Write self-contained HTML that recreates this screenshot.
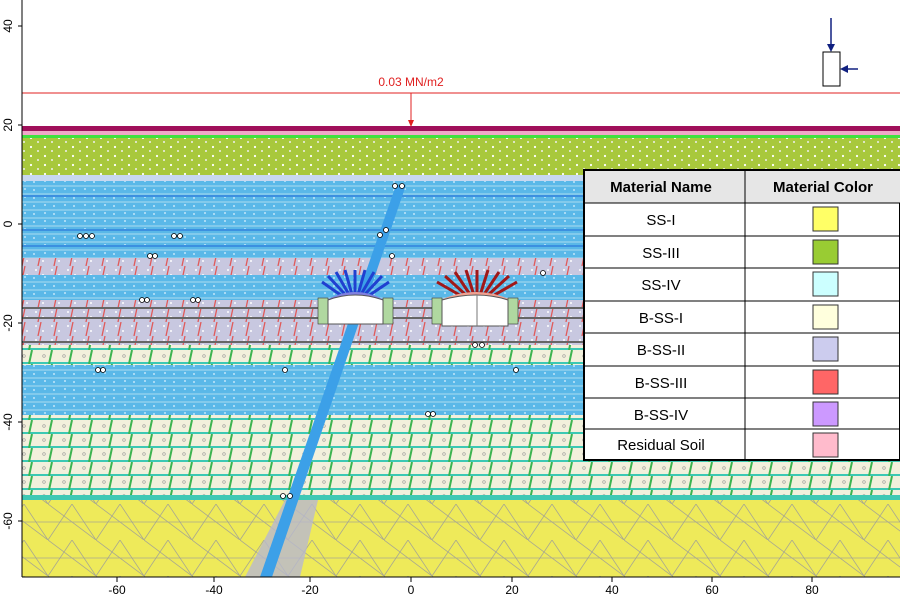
<!DOCTYPE html>
<html><head><meta charset="utf-8"><style>
html,body{margin:0;padding:0;background:#fff;width:900px;height:598px;overflow:hidden;font-family:"Liberation Sans",sans-serif}
</style></head><body>
<svg width="900" height="598" viewBox="0 0 900 598" xmlns="http://www.w3.org/2000/svg" font-family="Liberation Sans, sans-serif">
<defs>
<pattern id="dots" width="14" height="9" patternUnits="userSpaceOnUse"><circle cx="3" cy="3" r="1.1" fill="#fff"/><circle cx="10" cy="7" r="1" fill="#eee"/></pattern>
<pattern id="bluestr" width="20" height="8" patternUnits="userSpaceOnUse"><rect width="20" height="8" fill="#5ab8e8"/><line x1="0" y1="2" x2="20" y2="2" stroke="#a9dcf0" stroke-width="1"/><circle cx="5" cy="5" r="0.9" fill="#e0f4ff"/><circle cx="14" cy="6" r="0.9" fill="#e0f4ff"/></pattern>
<pattern id="redsl" width="16" height="14" patternUnits="userSpaceOnUse"><rect width="16" height="14" fill="#c8c8e0"/><circle cx="4" cy="4" r="1" fill="#fff"/><circle cx="11" cy="9" r="1" fill="#fff"/><line x1="6" y1="14" x2="9" y2="0" stroke="#e05a5a" stroke-width="1.3"/></pattern>
<pattern id="grngrid" width="20" height="14" patternUnits="userSpaceOnUse"><rect width="20" height="14" fill="#f2f0dc"/><line x1="0" y1="13" x2="20" y2="13" stroke="#3cc8b4" stroke-width="2"/><line x1="9" y1="14" x2="12" y2="0" stroke="#3cb450" stroke-width="2"/><circle cx="4" cy="6" r="1.3" fill="none" stroke="#999" stroke-width="0.6"/></pattern>
<pattern id="tri" width="48" height="36" patternUnits="userSpaceOnUse"><rect width="48" height="36" fill="#eeea5a"/><path d="M0 36 L24 0 L48 36 M0 18 H48 M0 0 L48 36" stroke="#a8a890" stroke-width="0.8" fill="none"/></pattern>
</defs>
<rect x="22" y="126" width="878" height="5" fill="#a0105a"/>
<rect x="22" y="131" width="878" height="4" fill="#f0a8c8"/>
<rect x="22" y="135" width="878" height="3" fill="#40e040"/>
<rect x="22" y="138" width="878" height="37" fill="#a8c83c"/>
<rect x="22" y="138" width="878" height="37" fill="url(#dots)"/>
<rect x="22" y="175" width="878" height="6" fill="#c8d8f0"/>
<rect x="22" y="181" width="878" height="77" fill="url(#bluestr)"/>
<g stroke="#3c90e0" stroke-width="2"><line x1="22" y1="196" x2="900" y2="196"/><line x1="22" y1="230" x2="900" y2="230"/><line x1="22" y1="246" x2="900" y2="246"/><line x1="22" y1="380" x2="900" y2="380"/><line x1="22" y1="412" x2="900" y2="412"/></g>
<rect x="22" y="258" width="878" height="17" fill="url(#redsl)"/>
<rect x="22" y="275" width="878" height="25" fill="url(#bluestr)"/>
<rect x="22" y="300" width="878" height="45" fill="url(#redsl)"/>
<line x1="22" y1="308" x2="900" y2="308" stroke="#666" stroke-width="2"/>
<line x1="22" y1="318" x2="900" y2="318" stroke="#666" stroke-width="2"/>
<line x1="22" y1="342" x2="900" y2="342" stroke="#666" stroke-width="2"/>
<rect x="22" y="345" width="878" height="20" fill="url(#grngrid)"/>
<rect x="22" y="365" width="878" height="50" fill="url(#bluestr)"/>
<rect x="22" y="415" width="878" height="80" fill="url(#grngrid)"/>
<rect x="22" y="495" width="878" height="5" fill="#40c8b4"/>
<rect x="22" y="500" width="878" height="77" fill="url(#tri)"/>
<polygon points="245,577 300,577 318,500 285,500" fill="#b8b8d0" opacity="0.8"/>
<polygon points="396,185 406,185 272,577 260,577" fill="#3ca0e8"/>
<g stroke="#2040d0" stroke-width="3">
<line x1="355" y1="305" x2="322" y2="282"/><line x1="355" y1="305" x2="328" y2="276"/><line x1="355" y1="305" x2="336" y2="272"/><line x1="355" y1="305" x2="345" y2="270"/><line x1="355" y1="305" x2="355" y2="270"/><line x1="355" y1="305" x2="365" y2="270"/><line x1="355" y1="305" x2="374" y2="272"/><line x1="355" y1="305" x2="382" y2="276"/><line x1="355" y1="305" x2="389" y2="282"/>
</g>
<g stroke="#a01818" stroke-width="3">
<line x1="477" y1="305" x2="437" y2="282"/><line x1="477" y1="305" x2="445" y2="276"/><line x1="477" y1="305" x2="455" y2="272"/><line x1="477" y1="305" x2="466" y2="270"/><line x1="477" y1="305" x2="477" y2="270"/><line x1="477" y1="305" x2="488" y2="270"/><line x1="477" y1="305" x2="499" y2="272"/><line x1="477" y1="305" x2="509" y2="276"/><line x1="477" y1="305" x2="517" y2="282"/>
</g>
<path d="M323 302 Q355 282 388 302 Z" fill="#8080e0"/>
<path d="M436 302 Q477 282 515 302 Z" fill="#f0a090"/>
<rect x="318" y="298" width="10" height="26" fill="#b0d8a0" stroke="#333" stroke-width="0.6"/>
<rect x="383" y="298" width="10" height="26" fill="#b0d8a0" stroke="#333" stroke-width="0.6"/>
<rect x="432" y="298" width="10" height="26" fill="#b0d8a0" stroke="#333" stroke-width="0.6"/>
<rect x="508" y="298" width="10" height="26" fill="#b0d8a0" stroke="#333" stroke-width="0.6"/>
<path d="M328 300 Q355 290 383 300 V324 H328 Z" fill="#fff" stroke="#555"/>
<path d="M442 300 Q477 290 508 300 V326 H442 Z" fill="#fff" stroke="#555"/>
<line x1="477" y1="295" x2="477" y2="326" stroke="#777"/>
<g fill="#fff" stroke="#000" stroke-width="0.8">
<circle cx="80" cy="236" r="2.5"/><circle cx="86" cy="236" r="2.5"/><circle cx="92" cy="236" r="2.5"/><circle cx="174" cy="236" r="2.5"/><circle cx="180" cy="236" r="2.5"/><circle cx="150" cy="256" r="2.5"/><circle cx="155" cy="256" r="2.5"/><circle cx="142" cy="300" r="2.5"/><circle cx="147" cy="300" r="2.5"/><circle cx="193" cy="300" r="2.5"/><circle cx="198" cy="300" r="2.5"/><circle cx="98" cy="370" r="2.5"/><circle cx="103" cy="370" r="2.5"/><circle cx="395" cy="186" r="2.5"/><circle cx="402" cy="186" r="2.5"/><circle cx="380" cy="235" r="2.5"/><circle cx="386" cy="230" r="2.5"/><circle cx="392" cy="256" r="2.5"/><circle cx="285" cy="370" r="2.5"/><circle cx="516" cy="370" r="2.5"/><circle cx="428" cy="414" r="2.5"/><circle cx="433" cy="414" r="2.5"/><circle cx="283" cy="496" r="2.5"/><circle cx="290" cy="496" r="2.5"/><circle cx="475" cy="345" r="2.5"/><circle cx="482" cy="345" r="2.5"/><circle cx="543" cy="273" r="2.5"/>
</g>
<line x1="22" y1="93" x2="900" y2="93" stroke="#e02020" stroke-width="1"/>
<line x1="411" y1="93" x2="411" y2="124" stroke="#e02020"/>
<path d="M408 120 L411 127 L414 120 Z" fill="#e02020"/>
<text x="411" y="86" font-size="12" fill="#e02020" text-anchor="middle">0.03 MN/m2</text>
<line x1="831" y1="18" x2="831" y2="48" stroke="#102080" stroke-width="1.5"/>
<path d="M827 44 L831 52 L835 44 Z" fill="#102080"/>
<rect x="823" y="52" width="17" height="34" fill="#fff" stroke="#000"/>
<line x1="844" y1="69" x2="858" y2="69" stroke="#102080" stroke-width="1.5"/>
<path d="M848 65 L840 69 L848 73 Z" fill="#102080"/>
<line x1="22" y1="0" x2="22" y2="577" stroke="#000"/>
<line x1="22" y1="577" x2="900" y2="577" stroke="#000"/>
<g stroke="#000" stroke-width="1">
<path d="M18 26H22 M18 125H22 M18 224H22 M18 323H22 M18 422H22 M18 521H22"/>
<path d="M117 577V582 M214 577V582 M310 577V582 M411 577V582 M512 577V582 M612 577V582 M712 577V582 M812 577V582"/>
</g>
<g font-size="12" fill="#000">
<text transform="translate(12,26) rotate(-90)" text-anchor="middle">40</text>
<text transform="translate(12,125) rotate(-90)" text-anchor="middle">20</text>
<text transform="translate(12,224) rotate(-90)" text-anchor="middle">0</text>
<text transform="translate(12,323) rotate(-90)" text-anchor="middle">-20</text>
<text transform="translate(12,422) rotate(-90)" text-anchor="middle">-40</text>
<text transform="translate(12,521) rotate(-90)" text-anchor="middle">-60</text>
<text x="117" y="594" text-anchor="middle">-60</text><text x="214" y="594" text-anchor="middle">-40</text><text x="310" y="594" text-anchor="middle">-20</text><text x="411" y="594" text-anchor="middle">0</text><text x="512" y="594" text-anchor="middle">20</text><text x="612" y="594" text-anchor="middle">40</text><text x="712" y="594" text-anchor="middle">60</text><text x="812" y="594" text-anchor="middle">80</text>
</g>
<g>
<rect x="584" y="170" width="316" height="290" fill="#fff" stroke="#000" stroke-width="2"/>
<rect x="585" y="171" width="315" height="32" fill="#e6e6e6"/>
<line x1="745" y1="170" x2="745" y2="460" stroke="#000"/>
<g stroke="#000"><line x1="584" y1="203" x2="900" y2="203"/><line x1="584" y1="236" x2="900" y2="236"/><line x1="584" y1="268" x2="900" y2="268"/><line x1="584" y1="301" x2="900" y2="301"/><line x1="584" y1="333" x2="900" y2="333"/><line x1="584" y1="366" x2="900" y2="366"/><line x1="584" y1="398" x2="900" y2="398"/><line x1="584" y1="429" x2="900" y2="429"/></g>
<g font-size="15" text-anchor="middle" fill="#000">
<text x="661" y="192" font-weight="bold">Material Name</text><text x="823" y="192" font-weight="bold">Material Color</text>
<text x="661" y="225">SS-I</text><text x="661" y="258">SS-III</text><text x="661" y="290">SS-IV</text><text x="661" y="323">B-SS-I</text><text x="661" y="355">B-SS-II</text><text x="661" y="388">B-SS-III</text><text x="661" y="420">B-SS-IV</text><text x="661" y="450">Residual Soil</text>
</g>
<g stroke="#333">
<rect x="813" y="207" width="25" height="24" fill="#ffff66"/><rect x="813" y="240" width="25" height="24" fill="#99cc33"/><rect x="813" y="272" width="25" height="24" fill="#ccffff"/><rect x="813" y="305" width="25" height="24" fill="#ffffdd"/><rect x="813" y="337" width="25" height="24" fill="#ccccee"/><rect x="813" y="370" width="25" height="24" fill="#ff6666"/><rect x="813" y="402" width="25" height="24" fill="#cc99ff"/><rect x="813" y="433" width="25" height="24" fill="#ffbbcc"/>
</g>
</g>
</svg>
</body></html>
